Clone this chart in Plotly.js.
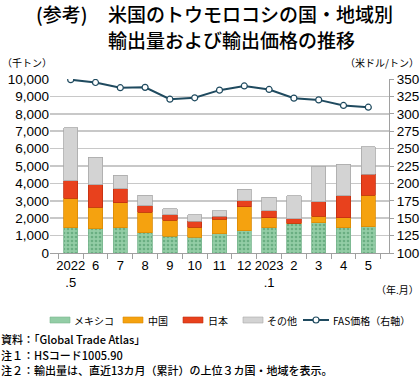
<!DOCTYPE html>
<html>
<head>
<meta charset="utf-8">
<script src="https://cdn.plot.ly/plotly-3.0.1.min.js"></script>
<style>html,body{margin:0;padding:0;background:#fff;}#chart{width:420px;height:378px;}</style>
</head>
<body>
<div id="chart"></div>
<script>
var categories = ["2022.5","6","7","8","9","10","11","12","2023.1","2","3","4","5"];
var tickLabels = ["2022<br>.5","6","7","8","9","10","11","12","2023<br>.1","2","3","4","5"];
var mexico = [1460,1380,1440,1150,960,900,1120,1270,1440,1690,1750,1460,1520];
var china  = [1690,1250,1460,1180,920,580,820,1400,580,30,370,560,1790];
var japan  = [1000,1290,790,380,310,350,180,330,400,260,820,1270,1230];
var other  = [3060,1580,790,620,350,360,320,650,770,1310,2060,1810,1560];
var fasPrice = [349,345,337.5,338,321,323,334,340,335,322.5,320,312,309.5];
var seriesNames = ["メキシコ","中国","日本","その他","FAS価格（右軸）"];

var L = 50, R = 389, T = 79, B = 253;
function px(x){ return (x - L) / (R - L); }
function py(y){ return (B - y) / (B - T); }

var jp = "Noto Sans CJK JP, sans-serif";
var num = "Liberation Sans, Arial, sans-serif";

var colors = {
  mexico:"#93cda6", mexicoLine:"#79b58f",
  china:"#f5a20f", chinaLine:"#d98b05",
  japan:"#e8411d", japanLine:"#c02f10",
  other:"#d3d3d3", otherLine:"#a9a9a9",
  price:"#1f4a5f"
};

var traces = [
  {type:"bar", name:seriesNames[0], x:categories, y:mexico,
   marker:{color:colors.mexico, line:{color:colors.mexicoLine, width:0.8},
           pattern:{shape:".", bgcolor:colors.mexico, fgcolor:"#6aae82", size:4, solidity:0.35}}},
  {type:"bar", name:seriesNames[1], x:categories, y:china,
   marker:{color:colors.china, line:{color:colors.chinaLine, width:0.8}}},
  {type:"bar", name:seriesNames[2], x:categories, y:japan,
   marker:{color:colors.japan, line:{color:colors.japanLine, width:0.8}}},
  {type:"bar", name:seriesNames[3], x:categories, y:other,
   marker:{color:colors.other, line:{color:colors.otherLine, width:0.8}}},
  {type:"scatter", mode:"lines+markers", name:seriesNames[4], x:categories, y:fasPrice, yaxis:"y2",
   line:{color:colors.price, width:2},
   marker:{symbol:"circle", size:6, color:"#ffffff", line:{color:colors.price, width:1.2}}}
];

// custom legend (shapes + annotations), laid out in pixels
var legY = 320;
var legendItems = [
  {sx:50, tx:72, fill:colors.mexico, line:colors.mexicoLine},
  {sx:123, tx:146, fill:colors.china, line:colors.chinaLine},
  {sx:183, tx:206, fill:colors.japan, line:colors.japanLine},
  {sx:243, tx:265, fill:colors.other, line:colors.otherLine},
  {sx:303, tx:331, isLine:true}
];
var shapes = [], annotations = [];
legendItems.forEach(function(it, i){
  if (it.isLine) {
    shapes.push({type:"line", xref:"paper", yref:"paper", x0:px(it.sx), x1:px(it.sx+26), y0:py(legY), y1:py(legY),
                 line:{color:colors.price, width:2}});
    shapes.push({type:"circle", xref:"paper", yref:"paper", x0:px(it.sx+10), x1:px(it.sx+16), y0:py(legY+3), y1:py(legY-3),
                 fillcolor:"#ffffff", line:{color:colors.price, width:1.2}});
  } else {
    shapes.push({type:"rect", xref:"paper", yref:"paper", x0:px(it.sx), x1:px(it.sx+20), y0:py(legY+3), y1:py(legY-3),
                 fillcolor:it.fill, line:{color:it.line, width:0.6}});
  }
  annotations.push({text:seriesNames[i], xref:"paper", yref:"paper", x:px(it.tx), y:py(legY), xanchor:"left", yanchor:"middle",
                    showarrow:false, font:{family:jp, size:10, color:"#000"}});
});

var titleFont = {family:jp, size:19, color:"#000", weight:500};
var noteFont = {family:jp, size:11, color:"#000", weight:500};
annotations = annotations.concat([
  {text:"(参考)", xref:"paper", yref:"paper", x:px(34), y:py(14), xanchor:"left", yanchor:"middle",
   showarrow:false, font:titleFont},
  {text:"米国のトウモロコシの国・地域別", xref:"paper", yref:"paper", x:px(106), y:py(14), xanchor:"left", yanchor:"middle",
   showarrow:false, font:titleFont},
  {text:"輸出量および輸出価格の推移", xref:"paper", yref:"paper", x:px(106), y:py(39), xanchor:"left", yanchor:"middle",
   showarrow:false, font:titleFont},
  {text:"（千トン）", xref:"paper", yref:"paper", x:px(0), y:py(62), xanchor:"left", yanchor:"middle",
   showarrow:false, font:{family:jp, size:10, color:"#000"}},
  {text:"（米ドル/トン）", xref:"paper", yref:"paper", x:px(421), y:py(62), xanchor:"right", yanchor:"middle",
   showarrow:false, font:{family:jp, size:10, color:"#000"}},
  {text:"（年.月）", xref:"paper", yref:"paper", x:px(421), y:py(289), xanchor:"right", yanchor:"middle",
   showarrow:false, font:{family:jp, size:10, color:"#000"}},
  {text:"資料：「Global Trade Atlas」", xref:"paper", yref:"paper", x:px(0), y:py(339), xanchor:"left", yanchor:"middle",
   showarrow:false, borderpad:0, font:noteFont},
  {text:"注１：HSコード1005.90", xref:"paper", yref:"paper", x:px(0), y:py(354.5), xanchor:"left", yanchor:"middle",
   showarrow:false, borderpad:0, font:noteFont},
  {text:"注２：輸出量は、直近13カ月（累計）の上位３カ国・地域を表示。", xref:"paper", yref:"paper", x:px(0), y:py(370), xanchor:"left", yanchor:"middle",
   showarrow:false, borderpad:0, font:noteFont}
]);

var layout = {
  width:420, height:378,
  margin:{l:L, r:420-R, t:T, b:378-B, pad:0},
  paper_bgcolor:"#fff", plot_bgcolor:"#fff",
  barmode:"stack", bargap:0.42,
  showlegend:false,
  xaxis:{type:"category", tickmode:"array", tickvals:categories, ticktext:tickLabels, tickangle:0,
         tickson:"boundaries", ticks:"outside", ticklen:5, tickcolor:"#a0a0a0",
         showline:true, linecolor:"#a0a0a0", linewidth:1, showgrid:false,
         tickfont:{family:num, size:13, color:"#000"}},
  yaxis:{range:[0,10000], dtick:1000, tickformat:",", showgrid:true, gridcolor:"#c8c8c8", gridwidth:1.5,
         zeroline:false, showline:false, ticks:"", tickfont:{family:num, size:13.5, color:"#000"}},
  yaxis2:{range:[100,350], dtick:25, overlaying:"y", side:"right", showgrid:false, zeroline:false,
          showline:true, linecolor:"#a0a0a0", linewidth:1, ticks:"outside", ticklen:4, tickcolor:"#a0a0a0",
          tickfont:{family:num, size:13.5, color:"#000"}},
  shapes:shapes,
  annotations:annotations
};

Plotly.newPlot("chart", traces, layout, {displayModeBar:false, staticPlot:true});
</script>
</body>
</html>
